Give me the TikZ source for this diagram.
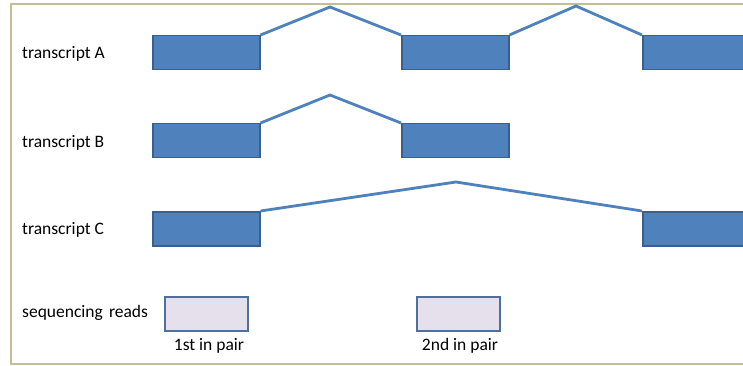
\documentclass[tikz,border=0pt]{standalone}
\usepackage{fontspec}
\setmainfont{Carlito}
\definecolor{exonfill}{HTML}{4F81BD}
\definecolor{exonedge}{HTML}{3A6090}
\definecolor{readfill}{HTML}{E6E0EC}
\definecolor{frametan}{HTML}{C4BD97}
\tikzset{
  exon/.style={draw=exonedge, fill=exonfill, line width=1.5pt, minimum width=107pt, minimum height=34pt, inner sep=0pt, anchor=north west},
  readbox/.style={draw=exonedge!90, fill=readfill, line width=1.5pt, minimum width=83pt, minimum height=34pt, inner sep=0pt, anchor=north west},
  junction/.style={draw=exonfill, line width=2.8pt, line join=miter},
  lbl/.style={anchor=base west, inner sep=0pt, font=\fontsize{17.5}{19}\selectfont},
  pairlbl/.style={anchor=base, inner sep=0pt, font=\fontsize{17.5}{19}\selectfont}
}
\begin{document}
\begin{tikzpicture}[x=1pt,y=-1pt]
\useasboundingbox (0,0) rectangle (743,366);
\clip (0,0) rectangle (743,366);
\draw[frametan, line width=2pt] (11,4) rectangle (790,364);
% labels
\node[lbl] (la) at (22,59) {transcript A};
\node[lbl] (lb) at (22,147) {transcript B};
\node[lbl] (lc) at (22,234.5) {transcript C};
\node[lbl] (lr) at (22,317) {sequencing\hspace{0.35em}reads};
% transcript A
\node[exon] (a1) at (152,35) {};
\node[exon] (a2) at (401,35) {};
\node[exon] (a3) at (642,35) {};
\coordinate (pa1) at (330,7);
\coordinate (pa2) at (576,6);
\draw[junction] (a1.north east) -- (pa1) -- (a2.north west);
\draw[junction] (a2.north east) -- (pa2) -- (a3.north west);
% transcript B
\node[exon] (b1) at (152,123) {};
\node[exon] (b2) at (401,123) {};
\coordinate (pb1) at (330,95);
\draw[junction] (b1.north east) -- (pb1) -- (b2.north west);
% transcript C
\node[exon] (c1) at (152,211) {};
\node[exon] (c2) at (642,211) {};
\coordinate (pc1) at (456,182);
\draw[junction] (c1.north east) -- (pc1) -- (c2.north west);
% reads
\node[readbox] (r1) at (164,296) {};
\node[readbox] (r2) at (416,296) {};
\node[pairlbl] (r1l) at (209,350) {1st in pair};
\node[pairlbl] (r2l) at (460,350) {2nd in pair};
\end{tikzpicture}
\end{document}
